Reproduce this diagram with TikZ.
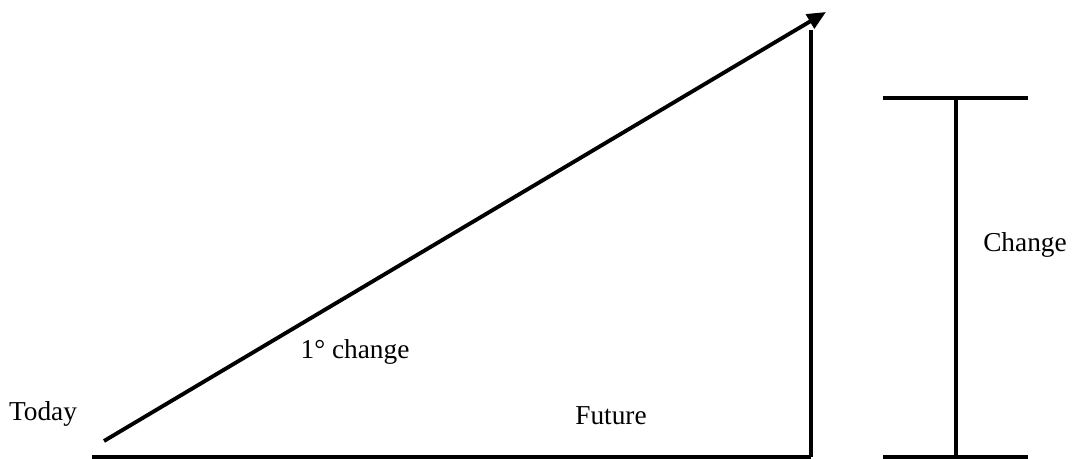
\documentclass[tikz,border=0pt]{standalone}
\usepackage{fontspec}
\setmainfont{Liberation Serif}
\usetikzlibrary{arrows.meta}
\begin{document}
\begin{tikzpicture}[x=0.75pt,y=-0.75pt,
  thick line/.style={line width=2.9pt},
  lbl/.style={font=\fontsize{20.5}{24}\selectfont, inner sep=0pt}]
\useasboundingbox (0,0) rectangle (1072,459);
% points
\coordinate (bl) at (92,457);
\coordinate (br) at (811,457);
\coordinate (vt) at (811,30);
\coordinate (as) at (104,441);
\coordinate (at) at (826,12);
\coordinate (ctl) at (883,98);
\coordinate (ctr) at (1028,98);
\coordinate (cbl) at (883,457);
\coordinate (cbr) at (1028,457);
\coordinate (cvt) at (956,98);
\coordinate (cvb) at (956,457);
% lines
\draw[thick line] (bl) -- (br);
\draw[thick line] (br) -- (vt);
\draw[thick line, -{Triangle[length=14pt,width=12pt]}] (as) -- (at);
\draw[thick line] (ctl) -- (ctr);
\draw[thick line] (cbl) -- (cbr);
\draw[thick line] (cvt) -- (cvb);
% labels
\node[lbl] (today) at (43,414) {Today};
\node[lbl] (onedeg) at (355,352) {1° change};
\node[lbl] (future) at (611,416) {Future};
\node[lbl] (change) at (1025,245) {Change};
\end{tikzpicture}
\end{document}
